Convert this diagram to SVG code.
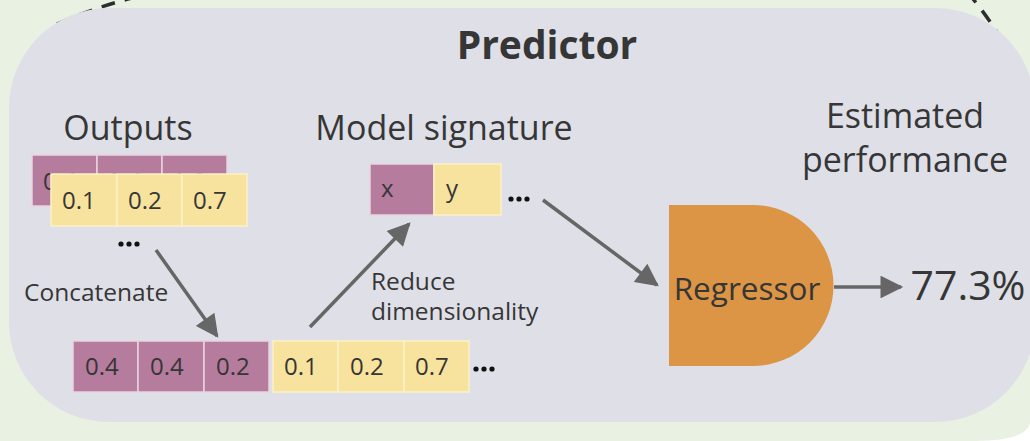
<svg xmlns="http://www.w3.org/2000/svg" width="1030" height="441" viewBox="0 0 1030 441">
<defs>
<style>
text{font-family:"Open Sans","Noto Sans","Liberation Sans",sans-serif;fill:#363636}
.cellP{fill:#b57c9d;stroke:#e9d3e0;stroke-width:1.5}
.cellY{fill:#f8e39e;stroke:#fdf1c8;stroke-width:1.5}
.num{font-size:24px}
.lbl{font-size:34px}
.small{font-size:24.5px}
.conn{stroke:#666;stroke-width:3.5;fill:none}
.dots{fill:#111}
</style>
<marker id="ah" viewBox="0 0 10 10" refX="9" refY="5" markerWidth="7" markerHeight="6.5" markerUnits="strokeWidth" orient="auto">
<path d="M0,0 L10,5 L0,10 Z" fill="#666"/>
</marker>
</defs>
<rect x="0" y="0" width="1030" height="441" fill="#e9f1e3"/>
<path d="M1030,423 Q1026,441 975,441 L1030,441 Z" fill="#ffffff"/>
<g id="dashed" fill="none" stroke="#2e2e2e" stroke-width="3.5" stroke-dasharray="14,10">
<path d="M57,24 Q95,7 140,-4"/>
<path d="M967,-8 Q983,10 998,34"/>
</g>
<g id="predictor">
<rect x="9" y="8" width="1026" height="414" rx="100" ry="100" fill="#dfdfe8"/>
<text x="547" y="59" text-anchor="middle" style="font-size:39px;font-weight:700">Predictor</text>
</g>
<g id="outputs">
<text x="128" y="140" text-anchor="middle" class="lbl">Outputs</text>
<rect class="cellP" x="32" y="155" width="65" height="51"/>
<rect class="cellP" x="97" y="155" width="65" height="51"/>
<rect class="cellP" x="162" y="155" width="65" height="51"/>
<text class="num" x="43" y="190">0.4</text>
<text class="num" x="108" y="190">0.4</text>
<text class="num" x="173" y="190">0.2</text>
<rect class="cellY" x="51" y="174" width="66" height="52"/>
<rect class="cellY" x="117" y="174" width="65" height="52"/>
<rect class="cellY" x="182" y="174" width="65" height="52"/>
<text class="num" x="62" y="209">0.1</text>
<text class="num" x="128" y="209">0.2</text>
<text class="num" x="193" y="209">0.7</text>
<circle class="dots" cx="121" cy="244" r="2.6"/><circle class="dots" cx="129" cy="244" r="2.6"/><circle class="dots" cx="137" cy="244" r="2.6"/>
</g>
<g id="signature">
<text x="444" y="140" text-anchor="middle" class="lbl">Model signature</text>
<rect class="cellP" x="370" y="164" width="64" height="51"/>
<rect class="cellY" x="434" y="164" width="67" height="51"/>
<text class="num" x="381" y="197">x</text>
<text class="num" x="446" y="197">y</text>
<circle class="dots" cx="511" cy="199" r="2.6"/><circle class="dots" cx="519" cy="199" r="2.6"/><circle class="dots" cx="527" cy="199" r="2.6"/>
</g>
<g id="concat-row">
<rect class="cellP" x="73" y="341" width="65" height="51"/>
<rect class="cellP" x="138" y="341" width="66" height="51"/>
<rect class="cellP" x="204" y="341" width="65" height="51"/>
<rect class="cellY" x="273" y="341" width="65" height="51"/>
<rect class="cellY" x="338" y="341" width="66" height="51"/>
<rect class="cellY" x="404" y="341" width="65" height="51"/>
<text class="num" x="85" y="375">0.4</text>
<text class="num" x="150" y="375">0.4</text>
<text class="num" x="216" y="375">0.2</text>
<text class="num" x="284" y="375">0.1</text>
<text class="num" x="350" y="375">0.2</text>
<text class="num" x="415" y="375">0.7</text>
<circle class="dots" cx="476" cy="369" r="2.6"/><circle class="dots" cx="484" cy="369" r="2.6"/><circle class="dots" cx="492" cy="369" r="2.6"/>
</g>
<g id="regressor">
<path d="M669,205 L753,205 A80.5,80.5 0 0 1 753,366 L669,366 Z" fill="#db9545"/>
<text x="747" y="300" text-anchor="middle" style="font-size:31.5px">Regressor</text>
</g>
<g id="performance">
<text x="905" y="128" text-anchor="middle" class="lbl">Estimated</text>
<text x="905" y="172" text-anchor="middle" class="lbl">performance</text>
<text x="968" y="300" text-anchor="middle" style="font-size:41px">77.3%</text>
</g>
<g id="labels">
<text class="small" x="24" y="301">Concatenate</text>
<text class="small" x="371" y="290">Reduce</text>
<text class="small" x="371" y="320">dimensionality</text>
</g>
<g id="connectors">
<line class="conn" x1="156" y1="250" x2="217" y2="336" marker-end="url(#ah)"/>
<line class="conn" x1="310" y1="327" x2="409" y2="224" marker-end="url(#ah)"/>
<line class="conn" x1="543" y1="200" x2="657" y2="285" marker-end="url(#ah)"/>
<line class="conn" x1="834" y1="287" x2="901" y2="287" marker-end="url(#ah)"/>
</g>
</svg>
